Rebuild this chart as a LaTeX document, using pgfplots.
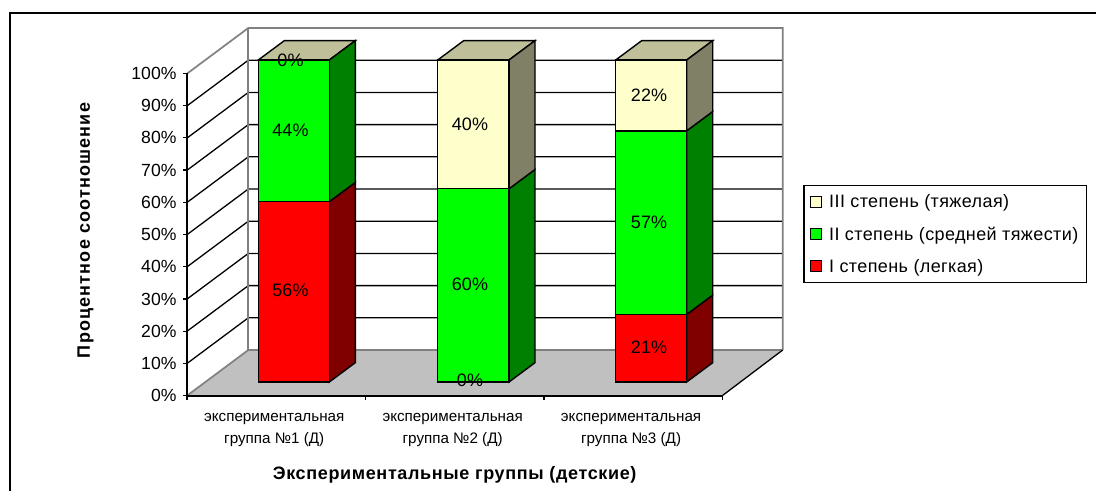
\documentclass[border=0pt]{standalone}
\usepackage{pgfplots}
\pgfplotsset{compat=1.18}
\usepackage{fontspec}
\setmainfont{Liberation Sans}
\definecolor{cream}{HTML}{FFFFCC}
\definecolor{creamside}{HTML}{808066}
\definecolor{creamtop}{HTML}{BFBF99}
\definecolor{lime}{HTML}{00FF00}
\definecolor{limeside}{HTML}{008000}
\definecolor{redside}{HTML}{800000}
\definecolor{floor}{HTML}{C0C0C0}
\definecolor{wall}{HTML}{808080}
\newcommand\tickfont{\fontsize{17.6}{20}\selectfont}
\newcommand\datafont{\fontsize{18}{20}\selectfont}
\newcommand\catfont{\fontsize{15.2}{21.7}\selectfont}
\newcommand\legfont{\fontsize{18}{20}\selectfont\addfontfeatures{LetterSpace=2.2}}
\newcommand\xtitlefont{\fontsize{18}{20}\selectfont\bfseries\addfontfeatures{LetterSpace=3.6}}
\newcommand\ytitlefont{\fontsize{18}{20}\selectfont\bfseries\addfontfeatures{LetterSpace=6.5}}
\begin{document}
\begin{tikzpicture}
\useasboundingbox (0pt,0pt) rectangle (1096pt,491pt);
\begin{axis}[
  at={(0pt,0pt)}, anchor=south west,
  scale only axis, width=1096pt, height=491pt,
  xmin=0, xmax=1096, ymin=-33.85, ymax=118.63,
  hide axis,
  face/.style={draw=black, line width=1.4pt, no markers, sharp plot, forget plot},
  grd/.style={draw=black, line width=1.3pt, no markers, sharp plot, forget plot},
  wal/.style={draw=wall, line width=1.7pt, no markers, sharp plot, forget plot},
  legend image code/.code={\draw[#1, draw=black, line width=1.2pt] (0pt,-5.5pt) rectangle (11pt,5.5pt);},
  legend style={at={(axis cs:803.3,61.18)}, anchor=north west, draw=black, line width=1.4pt,
    font=\legfont, cells={anchor=west}, row sep=13.5pt, inner xsep=6pt, inner ysep=7pt,
    /tikz/column 1/.style={column sep=5pt}},
]
% frame of the chart
\addplot[draw=black, line width=2.4pt, no markers, sharp plot, forget plot] coordinates {(1096,114.6)(10,114.6)(10,-33.85)};
% floor
\addplot[fill=floor, draw=none, no markers, sharp plot, forget plot] coordinates {(187,-4.25)(722.3,-4.25)(782.7,9.93)(248.3,9.93)} --cycle;
% grid lines: left wall and back wall
\addplot[grd] coordinates {(187,5.75)(248.3,19.93)(782.7,19.93)};
\addplot[grd] coordinates {(187,15.75)(248.3,29.93)(782.7,29.93)};
\addplot[grd] coordinates {(187,25.75)(248.3,39.93)(782.7,39.93)};
\addplot[grd] coordinates {(187,35.75)(248.3,49.93)(782.7,49.93)};
\addplot[grd] coordinates {(187,45.75)(248.3,59.93)(782.7,59.93)};
\addplot[grd] coordinates {(187,55.75)(248.3,69.93)(782.7,69.93)};
\addplot[grd] coordinates {(187,65.75)(248.3,79.93)(782.7,79.93)};
\addplot[grd] coordinates {(187,75.75)(248.3,89.93)(782.7,89.93)};
\addplot[grd] coordinates {(187,85.75)(248.3,99.93)(782.7,99.93)};
% walls
\addplot[wal] coordinates {(187,95.75)(248.3,109.93)(782.7,109.93)(782.7,9.93)};
\addplot[wal] coordinates {(248.3,109.93)(248.3,9.93)};
\addplot[wal] coordinates {(187,-4.25)(248.3,9.93)(782.7,9.93)};
\addplot[grd] coordinates {(722.3,-4.25)(782.7,9.93)};
% bar 1: 56, 44, 0
\addplot[face, fill=creamtop] coordinates {(258.3,100)(329.3,100)(355.3,106)(284.3,106)} --cycle;
\addplot[face, fill=redside] coordinates {(329.3,0)(355.3,6)(355.3,62)(329.3,56)} --cycle;
\addplot[face, fill=limeside] coordinates {(329.3,56)(355.3,62)(355.3,106)(329.3,100)} --cycle;
\addplot[face, fill=red] coordinates {(258.3,0)(329.3,0)(329.3,56)(258.3,56)} --cycle;
\addplot[face, fill=lime] coordinates {(258.3,56)(329.3,56)(329.3,100)(258.3,100)} --cycle;
% bar 2: 0, 60, 40
\addplot[face, fill=creamtop] coordinates {(437.7,100)(509,100)(535,106)(463.7,106)} --cycle;
\addplot[face, fill=limeside] coordinates {(509,0)(535,6)(535,66)(509,60)} --cycle;
\addplot[face, fill=creamside] coordinates {(509,60)(535,66)(535,106)(509,100)} --cycle;
\addplot[face, fill=lime] coordinates {(437.7,0)(509,0)(509,60)(437.7,60)} --cycle;
\addplot[face, fill=cream] coordinates {(437.7,60)(509,60)(509,100)(437.7,100)} --cycle;
% bar 3: 21, 57, 22
\addplot[face, fill=creamtop] coordinates {(615.7,100)(686.7,100)(712.7,106)(641.7,106)} --cycle;
\addplot[face, fill=redside] coordinates {(686.7,0)(712.7,6)(712.7,27)(686.7,21)} --cycle;
\addplot[face, fill=limeside] coordinates {(686.7,21)(712.7,27)(712.7,84)(686.7,78)} --cycle;
\addplot[face, fill=creamside] coordinates {(686.7,78)(712.7,84)(712.7,106)(686.7,100)} --cycle;
\addplot[face, fill=red] coordinates {(615.7,0)(686.7,0)(686.7,21)(615.7,21)} --cycle;
\addplot[face, fill=lime] coordinates {(615.7,21)(686.7,21)(686.7,78)(615.7,78)} --cycle;
\addplot[face, fill=cream] coordinates {(615.7,78)(686.7,78)(686.7,100)(615.7,100)} --cycle;
% data labels
\addplot[only marks, mark=none, forget plot, point meta=explicit symbolic,
  nodes near coords, every node near coord/.append style={anchor=center, font=\datafont, inner sep=0pt}]
  coordinates {
  (290.5,100)[0\%] (290.5,78.3)[44\%] (290.5,28.6)[56\%]
  (470,80)[40\%] (470,30.3)[60\%] (470,0.5)[0\%]
  (649,89)[22\%] (649,49.7)[57\%] (649,10.7)[21\%]
  };
\addlegendimage{fill=cream}
\addlegendentry{III степень (тяжелая)}
\addlegendimage{fill=lime}
\addlegendentry{II степень (средней тяжести)}
\addlegendimage{fill=red}
\addlegendentry{I степень (легкая)}
\end{axis}
\begin{axis}[
  at={(187pt,95.3pt)}, anchor=south west,
  scale only axis, width=535.3pt, height=322.4pt,
  xmin=0, xmax=3, ymin=0, ymax=100,
  axis x line*=bottom, axis y line*=left,
  axis line style={draw=black, line width=2pt},
  tick align=outside,
  ytick={0,10,...,100},
  yticklabels={0\%,10\%,20\%,30\%,40\%,50\%,60\%,70\%,80\%,90\%,100\%},
  yticklabel style={font=\tickfont, xshift=-3pt},
  major tick length=4pt, minor tick length=4pt,
  y tick style={draw=black, line width=1.3pt},
  xtick={0.5,1.5,2.5},
  xticklabels={экспериментальная\\группа №1 (Д),экспериментальная\\группа №2 (Д),экспериментальная\\группа №3 (Д)},
  xticklabel style={font=\catfont, align=center, yshift=-10.5pt, xshift=-2pt},
  major x tick style={draw=none},
  minor xtick={0,1,2,3},
  minor x tick style={draw=black, line width=1.3pt},
  xlabel={Экспериментальные группы (детские)},
  ylabel={Процентное соотношение},
  xlabel style={font=\xtitlefont, at={(axis description cs:0.5,0)}, anchor=center, yshift=-79.5pt, xshift=0pt},
  ylabel style={font=\ytitlefont, at={(axis description cs:0,0.5)}, anchor=center, yshift=101.5pt, xshift=4pt},
]
\end{axis}
\end{tikzpicture}
\end{document}
